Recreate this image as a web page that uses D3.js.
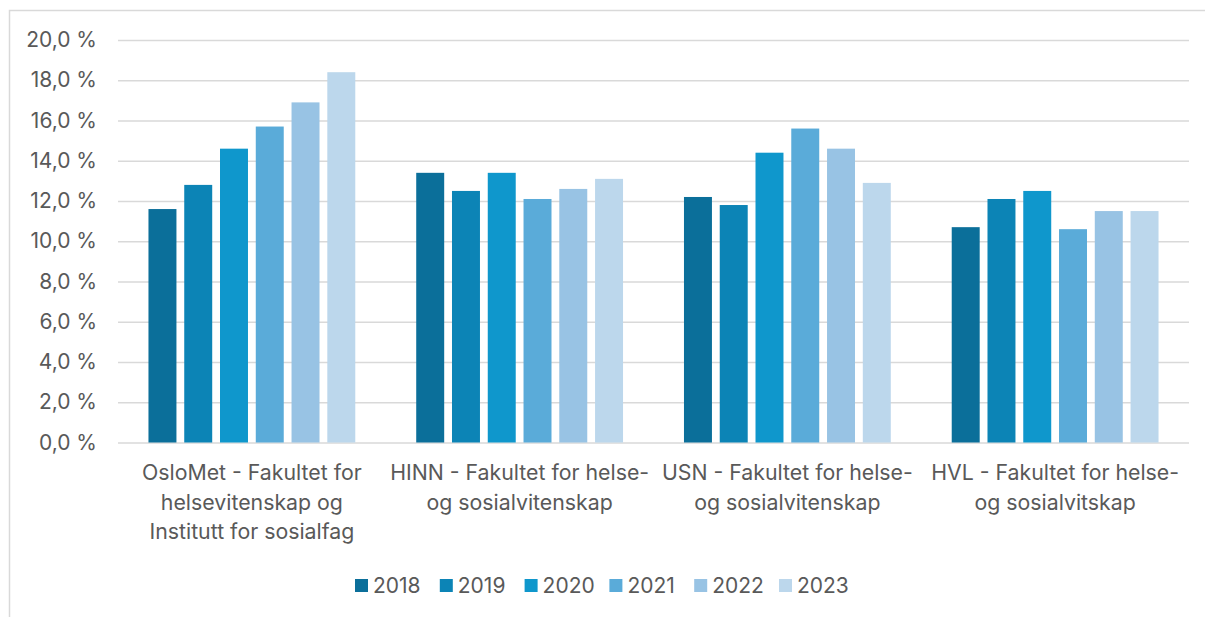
<!DOCTYPE html>
<html lang="no">
<head>
    <meta charset="UTF-8">
    <script src="https://d3js.org/d3.v7.min.js"></script>
    <style>
        body { margin: 0; background: white; }
        text { font-family: Inter, "Open Sans", sans-serif; fill: #595959; }
    </style>
</head>
<body>
    <svg id="chart" width="1205" height="617"></svg>

    <script>
        const categories = [
            ["OsloMet - Fakultet for", "helsevitenskap og", "Institutt for sosialfag"],
            ["HINN - Fakultet for helse-", "og sosialvitenskap"],
            ["USN - Fakultet for helse-", "og sosialvitenskap"],
            ["HVL - Fakultet for helse-", "og sosialvitskap"]
        ];
        const years = ["2018", "2019", "2020", "2021", "2022", "2023"];
        const colors = ["#0b6f9a", "#0c84b6", "#0f97cc", "#5aabd9", "#98c3e4", "#bcd7ec"];
        // one row per category, one value per year (percent)
        const oslomet = [11.6, 12.8, 14.6, 15.7, 16.9, 18.4];
        const hinn = [13.4, 12.5, 13.4, 12.1, 12.6, 13.1];
        const usn = [12.2, 11.8, 14.4, 15.6, 14.6, 12.9];
        const hvl = [10.7, 12.1, 12.5, 10.6, 11.5, 11.5];
        const yTicks = [0, 2, 4, 6, 8, 10, 12, 14, 16, 18, 20];

        const seriesValues = [oslomet, hinn, usn, hvl];
        const data = categories.map((c, i) => ({
            key: c.join(" "),
            lines: c,
            values: years.map((y, j) => ({ year: y, value: seriesValues[i][j] }))
        }));

        const width = 1205, height = 617;
        const margin = { top: 40, right: 16, bottom: 174, left: 118 };

        const svg = d3.select("#chart");

        // outer frame
        svg.append("rect")
            .attr("x", 9.5).attr("y", 10.5)
            .attr("width", 1200).attr("height", 620)
            .attr("fill", "none")
            .attr("stroke", "#d9d9d9")
            .attr("stroke-width", 1.5);

        const x0 = d3.scaleBand()
            .domain(data.map(d => d.key))
            .range([margin.left, width - margin.right]);
        const x1 = d3.scaleBand()
            .domain(years)
            .range([0, x0.bandwidth()])
            .paddingInner(0.218)
            .paddingOuter(0.852);
        const y = d3.scaleLinear().domain([0, 20]).range([height - margin.bottom - 0.5, margin.top]);

        const fmt = d => d3.format(".1f")(d).replace(".", ",") + "\u00a0%";

        // gridlines + tick labels
        const yAxis = svg.append("g")
            .attr("transform", `translate(${margin.left},0)`)
            .call(d3.axisLeft(y).tickValues(yTicks).tickFormat(fmt)
                .tickSize(-(width - margin.right - margin.left)).tickPadding(21));
        yAxis.select(".domain").remove();
        yAxis.selectAll(".tick line").attr("stroke", "#d9d9d9").attr("stroke-width", 1.5);
        yAxis.selectAll(".tick text").style("font-size", "21px").attr("fill", "#595959");

        // bars
        const groups = svg.selectAll(".group")
            .data(data)
            .enter().append("g")
            .attr("class", "group")
            .attr("transform", d => `translate(${x0(d.key)},0)`);

        groups.selectAll("rect")
            .data(d => d.values)
            .enter().append("rect")
            .attr("x", d => x1(d.year))
            .attr("y", d => y(d.value))
            .attr("width", x1.bandwidth())
            .attr("height", d => y(0) - y(d.value))
            .attr("fill", (d, i) => colors[i]);

        // category labels
        const catLabels = svg.selectAll(".cat")
            .data(data)
            .enter().append("text")
            .attr("class", "cat")
            .attr("text-anchor", "middle")
            .style("font-size", "21.3px");
        catLabels.selectAll("tspan")
            .data(d => d.lines.map(l => ({ l, x: x0(d.key) + x0.bandwidth() / 2 })))
            .enter().append("tspan")
            .attr("x", d => d.x)
            .attr("y", (d, i) => 480 + i * 29.5)
            .text(d => d.l);

        // legend
        const legend = svg.append("g").attr("transform", "translate(355,579)");
        const item = legend.selectAll("g")
            .data(years)
            .enter().append("g")
            .attr("transform", (d, i) => `translate(${i * 84.8},0)`);
        item.append("rect")
            .attr("width", 13).attr("height", 13)
            .attr("fill", (d, i) => colors[i]);
        item.append("text")
            .attr("x", 18).attr("y", 6.5)
            .attr("dy", "0.35em")
            .style("font-size", "21px")
            .text(d => d);
    </script>
</body>
</html>
